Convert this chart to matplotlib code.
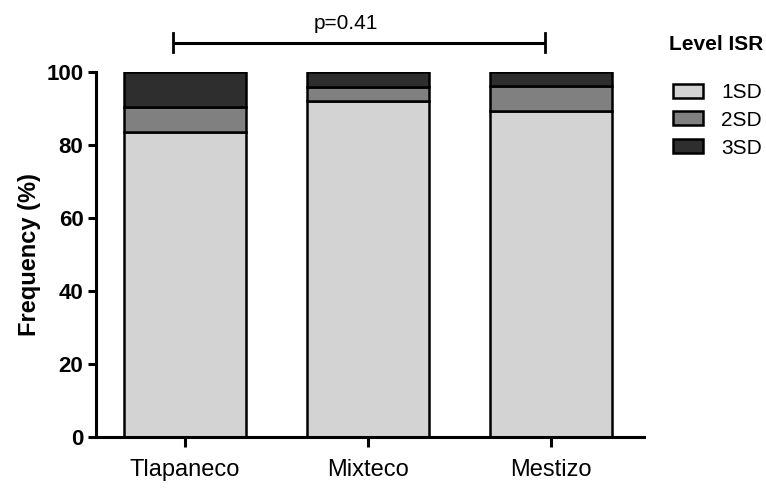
import matplotlib
matplotlib.use("Agg")
import matplotlib.pyplot as plt
from matplotlib.patches import Patch
import numpy as np

plt.rcParams['font.family'] = ['Liberation Sans', 'DejaVu Sans']

groups = ["Tlapaneco", "Mixteco", "Mestizo"]
levels = ["1SD", "2SD", "3SD"]
sd1 = [83.8, 92.3, 89.5]
sd2 = [6.8, 3.8, 6.8]
sd3 = [9.4, 3.9, 3.7]
colors = ["#d3d3d3", "#808080", "#2e2e2e"]
p_label = "p=0.41"

fig = plt.figure(figsize=(7.66, 4.9), dpi=100)
ax = fig.add_axes([96/766, 53/490, 548/766, 364.5/490])

x = np.arange(len(groups))
bottom = np.zeros(len(groups))
for vals, col in zip([sd1, sd2, sd3], colors):
    ax.bar(x, vals, width=0.667, bottom=bottom, color=col,
           edgecolor="black", linewidth=1.8, zorder=2)
    bottom += np.array(vals)

ax.set_xlim(-0.486, 2.508)
ax.set_ylim(0, 100)
ax.set_yticks([0, 20, 40, 60, 80, 100])
ax.set_xticks(x)
ax.set_xticklabels(groups, fontsize=17)
for lbl in ax.get_yticklabels():
    lbl.set_fontweight("bold")
    lbl.set_fontsize(16)
ax.set_ylabel("Frequency (%)", fontsize=17, fontweight="bold", labelpad=4)

for s in ["top", "right"]:
    ax.spines[s].set_visible(False)
for s in ["left", "bottom"]:
    ax.spines[s].set_linewidth(2.2)
ax.tick_params(axis="y", length=6, width=2.2, pad=3)
ax.tick_params(axis="x", length=7, width=2.2, pad=9)

# significance bracket
y_br = 108.2
ax.plot([-0.066, 1.967], [y_br, y_br], color="black", lw=2.2,
        clip_on=False, solid_capstyle="butt")
for xe in [-0.066, 1.967]:
    ax.plot([xe, xe], [y_br - 2.6, y_br + 2.6], color="black", lw=2.0,
            clip_on=False)
ax.text(0.88, 111.8, p_label, ha="center", va="baseline", fontsize=15)

# legend
fig.text(763/766, 1 - 45/490, "Level ISR", ha="right", va="center",
         fontsize=15, fontweight="bold")
handles = [Patch(facecolor=c, edgecolor="black", linewidth=1.8) for c in colors]
fig.legend(handles, levels, loc="upper left",
           bbox_to_anchor=(673/766, 1 - 83/490),
           frameon=False, fontsize=15,
           handlelength=1.45, handleheight=0.65, labelspacing=0.42,
           handletextpad=0.85, borderaxespad=0, borderpad=0)

fig.savefig("out.png", dpi=100)
